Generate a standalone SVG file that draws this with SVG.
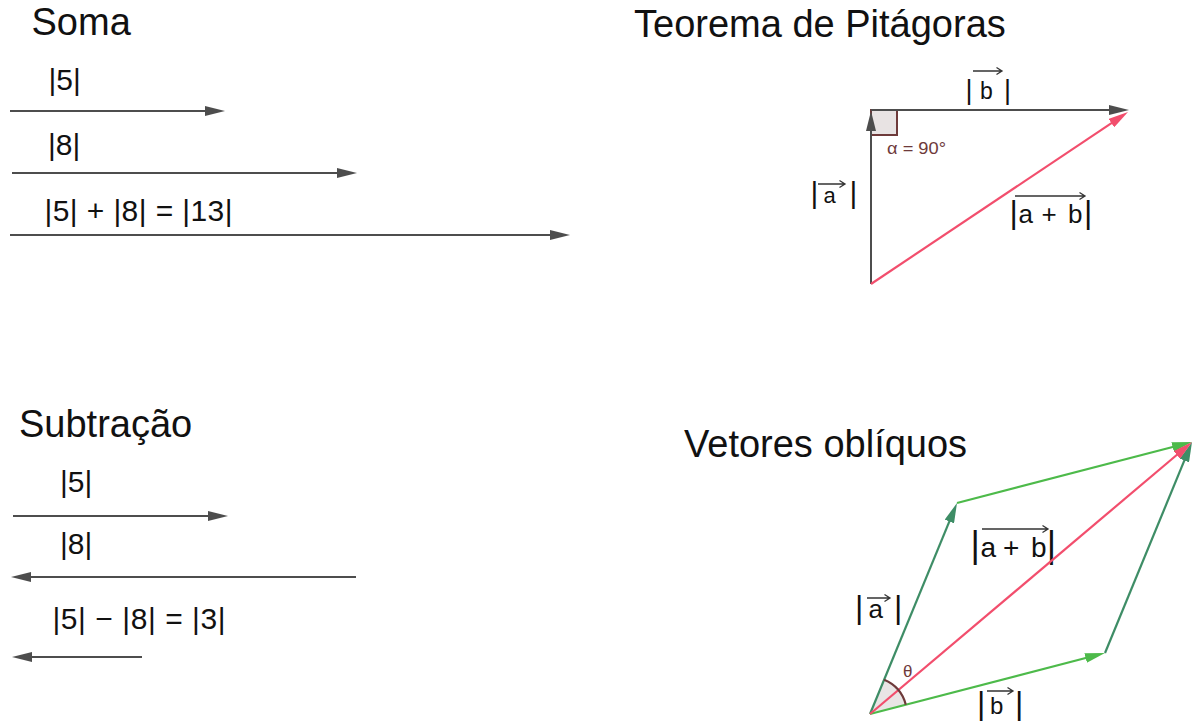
<svg xmlns="http://www.w3.org/2000/svg" width="1194" height="727" viewBox="0 0 1194 727">
<style>
text{font-family:"Liberation Sans",Arial,sans-serif;fill:#111}
.title{font-size:38px}
.num{font-size:30px}
.ang{fill:#6e3a3a}
.vec{stroke:#333;stroke-width:1.3;fill:none}
.g{stroke:#4d4d4d;stroke-width:2;fill:none}
.r{stroke:#f24e6d;stroke-width:2.2;fill:none}
.dg{stroke:#3e8d66;stroke-width:2.2;fill:none}
.lg{stroke:#4dba4a;stroke-width:2.2;fill:none}
</style>
<defs>
<marker id="hg" markerUnits="userSpaceOnUse" markerWidth="20" markerHeight="10" refX="10" refY="5" orient="auto"><path d="M0,0 L20,5 L0,10 z" fill="#4d4d4d"/></marker>
<marker id="hr" markerUnits="userSpaceOnUse" markerWidth="20" markerHeight="10" refX="10" refY="5" orient="auto"><path d="M0,0 L20,5 L0,10 z" fill="#f24e6d"/></marker>
<marker id="hdg" markerUnits="userSpaceOnUse" markerWidth="20" markerHeight="10" refX="10" refY="5" orient="auto"><path d="M0,0 L20,5 L0,10 z" fill="#3e8d66"/></marker>
<marker id="hlg" markerUnits="userSpaceOnUse" markerWidth="20" markerHeight="10" refX="10" refY="5" orient="auto"><path d="M0,0 L20,5 L0,10 z" fill="#4dba4a"/></marker>
</defs>
<rect width="1194" height="727" fill="#fff"/>

<g id="soma">
<text class="title" x="31.5" y="35">Soma</text>
<text class="num" x="48.5" y="90">|5|</text>
<text class="num" x="48" y="155">|8|</text>
<text class="num" x="44.5" y="221" textLength="188" lengthAdjust="spacing">|5| + |8| = |13|</text>
</g>

<g id="subtracao">
<text class="title" x="19" y="437">Subtração</text>
<text class="num" x="60" y="492">|5|</text>
<text class="num" x="60" y="554">|8|</text>
<text class="num" x="52.5" y="629" textLength="173" lengthAdjust="spacing">|5| − |8| = |3|</text>
</g>

<g id="pitagoras">
<text class="title" x="634" y="37">Teorema de Pitágoras</text>
<rect x="871" y="110" width="26" height="25" fill="#e8e3e3" stroke="#6e3a3a" stroke-width="2"/>
<text class="ang" x="887" y="154" font-size="17" textLength="59" lengthAdjust="spacingAndGlyphs">α = 90°</text>
<text y="99"><tspan x="965.5" font-size="27">|</tspan><tspan x="980" font-size="23">b</tspan><tspan x="1004" font-size="27">|</tspan></text>
<path class="vec" d="M973 71 H1002 M996.5 67.5 L1002 71 L996.5 74.5"/>
<text y="203"><tspan x="810.5" font-size="30">|</tspan><tspan x="823.5" font-size="22">a</tspan><tspan x="849.5" font-size="30">|</tspan></text>
<path class="vec" d="M818 184 H845 M839.5 180.5 L845 184 L839.5 187.5"/>
<text y="223"><tspan x="1009.5" font-size="32">|</tspan><tspan x="1018.5" font-size="26">a</tspan><tspan x="1041.5" font-size="26">+</tspan><tspan x="1068" font-size="26">b</tspan><tspan x="1084" font-size="32">|</tspan></text>
<path class="vec" d="M1015 196 H1085 M1079.5 192.5 L1085 196 L1079.5 199.5"/>
</g>

<g id="obliquos">
<text class="title" x="684" y="457">Vetores oblíquos</text>
<path d="M870 714 L905.8 704.7 A37 37 0 0 0 884.1 679.8 Z" fill="#e9e5e5"/>
<text class="ang" x="903" y="677" font-size="17">θ</text>
<text y="618"><tspan x="855" font-size="32">|</tspan><tspan x="868.5" font-size="26">a</tspan><tspan x="894" font-size="32">|</tspan></text>
<path class="vec" d="M867 598 H890 M884.5 594.5 L890 598 L884.5 601.5"/>
<text y="557"><tspan x="970.5" font-size="36">|</tspan><tspan x="980.5" font-size="28">a</tspan><tspan x="1003" font-size="28">+</tspan><tspan x="1031" font-size="28">b</tspan><tspan x="1046.8" font-size="36">|</tspan></text>
<path class="vec" d="M982 529 H1048 M1042.5 525.5 L1048 529 L1042.5 532.5"/>
<text y="714"><tspan x="977" font-size="32">|</tspan><tspan x="990" font-size="24">b</tspan><tspan x="1015" font-size="32">|</tspan></text>
<path class="vec" d="M987 691 H1013 M1007.5 687.5 L1013 691 L1007.5 694.5"/>
</g>

<g id="connectors">
<path class="g" d="M10 111 H215" marker-end="url(#hg)"/>
<path class="g" d="M12 173 H347" marker-end="url(#hg)"/>
<path class="g" d="M10 235 H560" marker-end="url(#hg)"/>
<path class="g" d="M13 516 H218" marker-end="url(#hg)"/>
<path class="g" d="M356 577 H21" marker-end="url(#hg)"/>
<path class="g" d="M142 657 H22" marker-end="url(#hg)"/>
<path class="g" d="M871 284 V121" marker-end="url(#hg)"/>
<path class="g" d="M871 110 H1119" marker-end="url(#hg)"/>
<path class="r" d="M871 284 L1119.7 117.6" marker-end="url(#hr)"/>
<path class="dg" d="M870 714 L953.2 512.2" marker-end="url(#hdg)"/>
<path class="lg" d="M870 714 L1095.3 655.5" marker-end="url(#hlg)"/>
<path class="lg" d="M957 503 L1182.3 444.5" marker-end="url(#hlg)"/>
<path class="dg" d="M1105 653 L1188.2 451.2" marker-end="url(#hdg)"/>
<path class="r" d="M870 714 L1184.4 448.5" marker-end="url(#hr)"/>
<path d="M905.8 704.7 A37 37 0 0 0 884.1 679.8" fill="none" stroke="#6e3a3a" stroke-width="2.2"/>
</g>
</svg>
